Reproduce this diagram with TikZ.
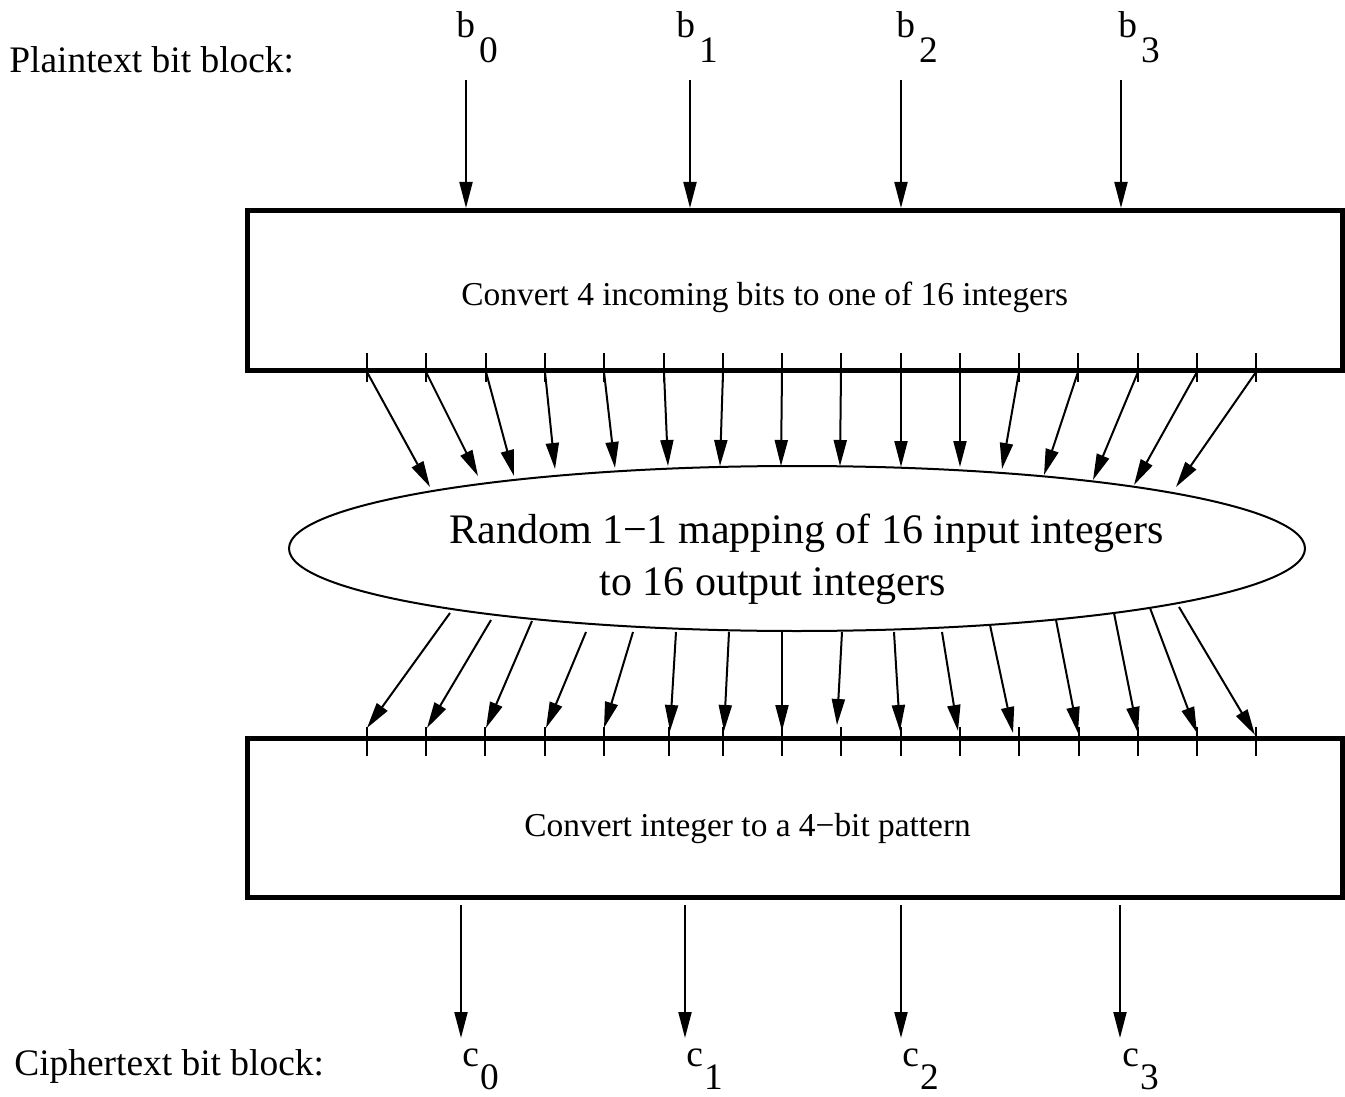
\documentclass[tikz,border=0pt]{standalone}
\usepackage{fontspec}
\setmainfont{Liberation Serif}
\usetikzlibrary{arrows.meta,shapes.geometric}
\begin{document}
\begin{tikzpicture}[x=0.5pt,y=-0.5pt,
  lbl/.style={font=\fontsize{18.7pt}{22pt}\selectfont, inner sep=0, anchor=base west},
  boxtxt/.style={font=\fontsize{16.7pt}{20pt}\selectfont, inner sep=0, anchor=base west},
  maptxt/.style={font=\fontsize{21pt}{25pt}\selectfont, inner sep=0, anchor=base west},
  blk/.style={draw, line width=2.5pt, rectangle, minimum width=547.5pt, minimum height=79.5pt, inner sep=0},
  mapell/.style={draw, ellipse, line width=1pt, minimum width=508pt, minimum height=82.5pt, inner sep=0},
  conn/.style={line width=1pt, -{Triangle[length=13pt,width=6.5pt]}},
  tickmark/.style={line width=1pt}]
\useasboundingbox (0,0) rectangle (1345,1097);

% blocks
\node[blk] (top) at (794.5,290.5) {};
\node[blk] (bot) at (794.5,817.5) {};
\node[mapell] (map) at (797,548.5) {};

% texts
\node[lbl] (plain) at (9,73) {Plaintext bit block:};
\node[lbl] (cipher) at (14,1075) {Ciphertext bit block:};
\node[boxtxt] (toptxt) at (461,305) {Convert 4 incoming bits to one of 16 integers};
\node[boxtxt] (bottxt) at (524,836) {Convert integer to a 4−bit pattern};
\node[maptxt] (m1) at (449,543) {Random 1−1 mapping of 16 input integers};
\node[maptxt] (m2) at (599,595) {to 16 output integers};

% input bits
\foreach \i/\lx/\ax in {0/456/466, 1/676/690, 2/896/901, 3/1118/1121} {
  \node[lbl] (b\i) at (\lx,38) {b\kern2pt\raisebox{-12.5pt}{\i}};
  \coordinate (bs\i) at (\ax,80);
  \coordinate (be\i) at (\ax,208);
  \draw[conn] (bs\i) -- (be\i);
}

% output bits
\foreach \i/\lx/\ax in {0/462/461, 1/686/685, 2/902/901, 3/1122/1120} {
  \node[lbl] (c\i) at (\lx,1066) {c\kern0.5pt\raisebox{-11.5pt}{\i}};
  \coordinate (cs\i) at (\ax,905);
  \coordinate (ce\i) at (\ax,1038);
  \draw[conn] (cs\i) -- (ce\i);
}

% ticks on top block
\foreach \x [count=\i] in {367,426,486,545,604,664,723,782,841,901,960,1019,1078,1138,1197,1256} {
  \draw[tickmark] (\x,353) -- (\x,382);
  \coordinate (tt\i) at (\x,372);
}
% ticks on bottom block
\foreach \x [count=\i] in {367,426,485,545,604,669,723,782,841,901,960,1019,1079,1138,1197,1256} {
  \draw[tickmark] (\x,727) -- (\x,756);
}

% arrows from top block to mapping
\foreach \i/\tx/\ty in {1/430/487, 2/478/476, 3/514/476, 4/555/469, 5/615/468, 6/668/466, 7/720/466, 8/781/466,
  9/840/466, 10/901/467, 11/960/467, 12/1002/469, 13/1044/475, 14/1093/480, 15/1134/485, 16/1176/487} {
  \coordinate (mt\i) at (\tx,\ty);
  \draw[conn] (tt\i) -- (mt\i);
}

% arrows from mapping to bottom block
\foreach \i/\sx/\sy/\ex/\ey in {1/450/613/367/728, 2/491/620/427/728, 3/532/621/486/728, 4/586/632/546/728,
  5/633/632/604/728, 6/676/632/670/731, 7/729/632/724/731, 8/782/632/782/731, 9/842/632/837/725,
  10/894/632/900/731, 11/942/632/958/731, 12/990/625/1013/733, 13/1056/620/1078/733,
  14/1114/613/1138/733, 15/1150/608/1197/733, 16/1179/607/1255/735} {
  \coordinate (ms\i) at (\sx,\sy);
  \coordinate (me\i) at (\ex,\ey);
  \draw[conn] (ms\i) -- (me\i);
}
\end{tikzpicture}
\end{document}
